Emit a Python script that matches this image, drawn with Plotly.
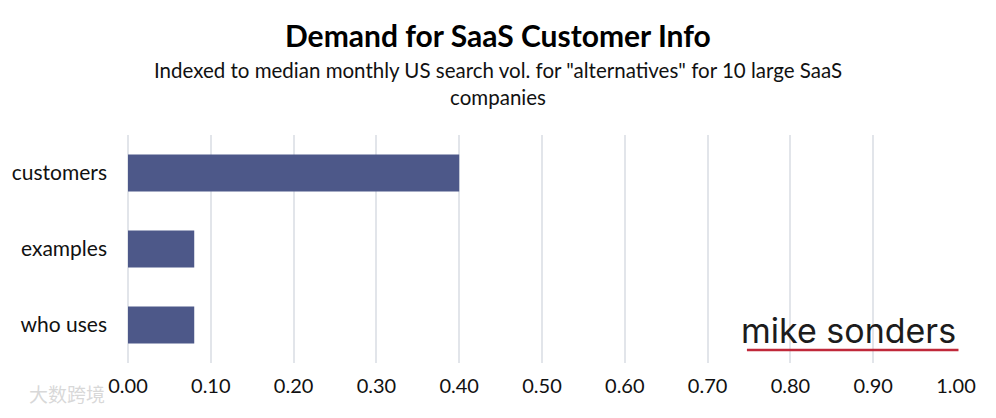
import plotly.graph_objects as go

categories = ["customers", "examples", "who uses"]
values = [0.40, 0.08, 0.08]
tick_vals = [0.0, 0.1, 0.2, 0.3, 0.4, 0.5, 0.6, 0.7, 0.8, 0.9, 1.0]
tick_text = ["0.00", "0.10", "0.20", "0.30", "0.40", "0.50", "0.60", "0.70", "0.80", "0.90", "1.00"]

fig = go.Figure(go.Bar(
    x=values, y=categories, orientation="h",
    marker=dict(color="#4d5889", line=dict(width=0)),
    width=0.49,
))

# page body has an 8px margin; compensate so the plot lands where the reference has it
W, H = 988, 410
L, R, T, B = 120, 40, 127, 55
PW = W - L - R

fig.update_layout(
    width=W, height=H,
    margin=dict(l=L, r=R, t=T, b=B, autoexpand=False),
    paper_bgcolor="white", plot_bgcolor="white",
    font=dict(family="Lato", color="#111111", size=18),
    showlegend=False,
    annotations=[
        dict(text="<b>Demand for SaaS Customer Info</b>",
             xref="paper", yref="paper", x=(996 / 2 - 8 - L) / PW, y=1.0,
             xanchor="center", yanchor="middle", yshift=100, showarrow=False,
             font=dict(family="Lato", size=30, color="#000000")),
        dict(text='Indexed to median monthly US search vol. for "alternatives" for 10 large SaaS<br>companies',
             xref="paper", yref="paper", x=(996 / 2 - 8 - L) / PW, y=1.0,
             xanchor="center", yanchor="middle", yshift=52, showarrow=False,
             font=dict(family="Lato", size=20.5, color="#111111"), align="center"),
        dict(text="mike sonders", xref="paper", yref="paper", x=1.003, y=0.045,
             xanchor="right", yanchor="bottom", showarrow=False,
             font=dict(family="Inter", size=34, color="#1c1c1c")),
        dict(text="大数跨境", xref="paper", yref="paper", x=-0.025, y=-0.135,
             xanchor="right", yanchor="middle", showarrow=False,
             font=dict(family="Noto Sans CJK SC", size=19, color="rgba(190,190,190,0.6)")),
    ],
    shapes=[
        dict(type="line", xref="paper", yref="paper", x0=0.7475, x1=1.003, y0=0.057, y1=0.057,
             line=dict(color="#c0283a", width=2.5)),
    ],
)

fig.update_xaxes(
    range=[0, 1.0], tickvals=tick_vals, ticktext=tick_text,
    showgrid=True, gridcolor="#e2e5ea", gridwidth=2,
    zeroline=True, zerolinecolor="#e2e5ea", zerolinewidth=2,
    showline=False, ticks="", ticklabelstandoff=9,
    tickfont=dict(size=20, color="#111111"),
)
fig.update_yaxes(
    autorange="reversed", showgrid=False, showline=False, ticks="",
    ticklabelstandoff=20, tickfont=dict(size=21, color="#111111"),
)

fig.write_html("out.html")
